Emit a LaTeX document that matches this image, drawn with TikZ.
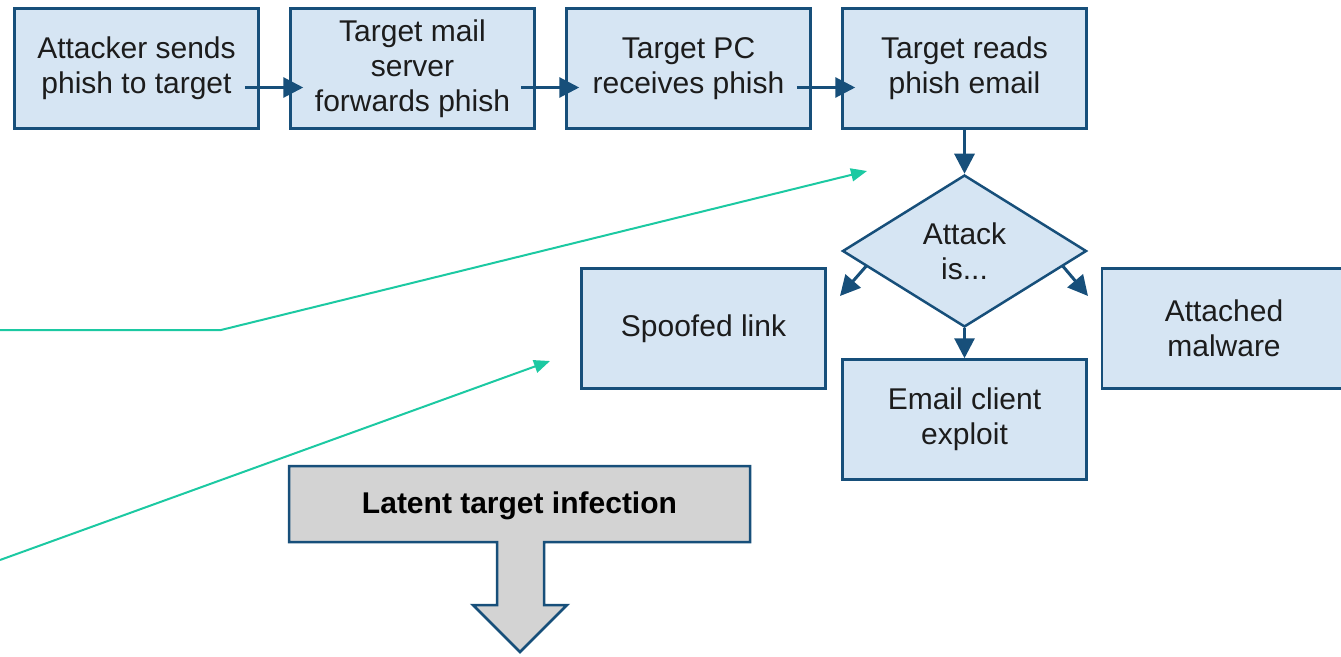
\documentclass[tikz,border=0pt]{standalone}
\usepackage{fontspec}
\setmainfont{Liberation Sans}
\usetikzlibrary{arrows.meta, positioning, shapes.geometric, calc}
\usepackage{xcolor}
\definecolor{EdgeBlue}{HTML}{174F7A}
\definecolor{FillBlue}{HTML}{D6E5F3}
\definecolor{FillGrey}{HTML}{D3D3D3}
\definecolor{HintTeal}{HTML}{1CC9A2}
\definecolor{InkDark}{HTML}{1C1C1C}
\newcommand{\boxfont}{\fontsize{30}{35}\selectfont}
\tikzset{
  pbox/.style={draw=EdgeBlue, line width=2.5pt, fill=FillBlue, align=center,
    minimum width=244pt, minimum height=120pt, inner sep=0pt, font=\boxfont, text=InkDark},
  dbox/.style={diamond, aspect=1.62, draw=EdgeBlue, line width=2.5pt, fill=FillBlue, align=center,
    minimum width=244pt, minimum height=152pt, inner sep=0pt, font=\boxfont, text=InkDark},
  gbox/.style={draw=EdgeBlue, line width=2.5pt, fill=FillGrey},
  flow/.style={-{Triangle[length=20pt, width=20pt]}, line width=3pt, draw=EdgeBlue},
  hint/.style={-{Triangle[length=16pt, width=13pt]}, line width=2pt, draw=HintTeal},
}
\begin{document}
\begin{tikzpicture}[x=1pt, y=-1pt, node distance=29.5pt]
  \useasboundingbox (0,0) rectangle (1341,656);
  % top row
  \node[pbox] (send) at (136.5,68.5) {Attacker sends\\phish to target};
  \node[pbox, right=of send] (server) {Target mail\\server\\forwards phish};
  \node[pbox, right=of server] (pc) {Target PC\\receives phish};
  \node[pbox, right=of pc] (reads) {Target reads\\phish email};
  % decision and outcomes
  \node[dbox, below=44pt of reads] (attack) {Attack\\is...};
  \node[pbox] (spoof) at (703.5,328.5) {Spoofed link};
  \node[pbox] (malware) at (1224,328.5) {Attached\\malware};
  \node[pbox, below=30pt of attack] (client) {Email client\\exploit};
  \draw[flow] ([xshift=-15pt, yshift=-19pt]send.east) -- ([xshift=14pt, yshift=-19pt]server.west);
  \draw[flow] ([xshift=-15pt, yshift=-19pt]server.east) -- ([xshift=14pt, yshift=-19pt]pc.west);
  \draw[flow] ([xshift=-15pt, yshift=-19pt]pc.east) -- ([xshift=14pt, yshift=-19pt]reads.west);
  \draw[flow] (reads) -- (attack);
  \draw[flow] (attack) -- (client);
  \coordinate (leftout) at (840,296);
  \coordinate (rightout) at (1088,296);
  \draw[flow] ($(attack.west)!0.2!(attack.south)$) -- (leftout);
  \draw[flow] ($(attack.east)!0.2!(attack.south)$) -- (rightout);
  % latent infection block arrow
  \draw[gbox] (289,466) -- (750,466) -- (750,542) -- (544,542) -- (544,605) -- (567,605)
    -- (520,652) -- (473,605) -- (497,605) -- (497,542) -- (289,542) -- cycle;
  \node[font=\boxfont\bfseries, text=black] (latent) at (519.5,506) {Latent target infection};
  % teal pointers
  \coordinate (hintA) at (0,330);
  \coordinate (bendA) at (221,330);
  \coordinate (tipA) at (867,171);
  \coordinate (hintB) at (0,560);
  \coordinate (tipB) at (550,361);
  \draw[hint] (hintA) -- (bendA) -- (tipA);
  \draw[hint] (hintB) -- (tipB);
\end{tikzpicture}
\end{document}
